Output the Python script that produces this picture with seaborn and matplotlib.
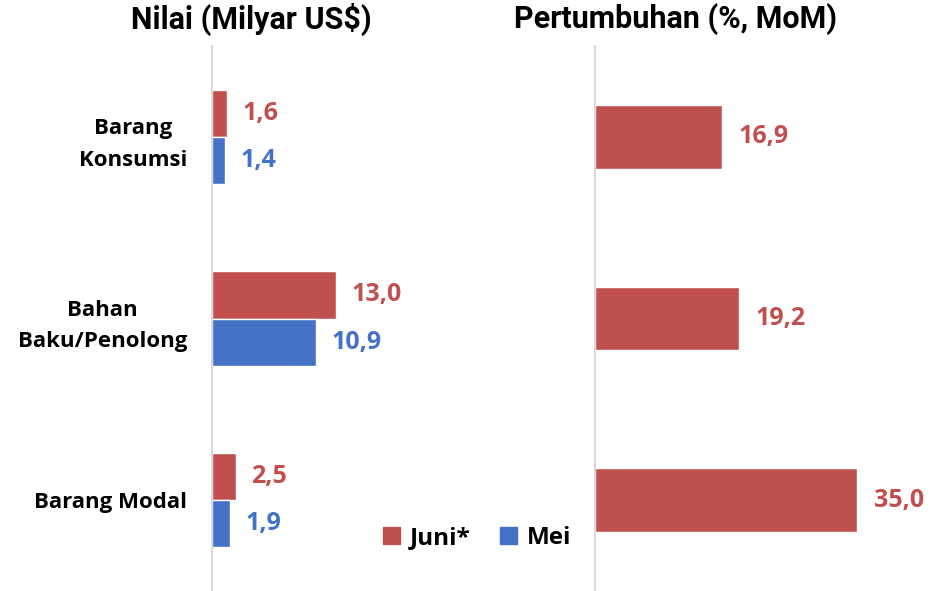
#!/usr/bin/env python3
# plot: nilai dan pertumbuhan impor menurut golongan barang

import pandas as pd
import seaborn as sns
import matplotlib.pyplot as plt
from matplotlib.patches import Patch

# Data =========================================================================

categories = ['Barang\nKonsumsi', 'Bahan\nBaku/Penolong', 'Barang Modal']
series = ['Juni*', 'Mei']
nilai_juni = [1.6, 13.0, 2.5]
nilai_mei = [1.4, 10.9, 1.9]
pertumbuhan = [16.9, 19.2, 35.0]

RED = '#C0504D'
BLUE = '#4472C4'
GRID = '#D9D9D9'


def fmt(v):
    return f'{v:.1f}'.replace('.', ',')


def main():
    sns.set_theme(style='white')
    plt.rcParams['font.family'] = ['Open Sans', 'DejaVu Sans']
    plt.rcParams['text.color'] = 'black'
    plt.rcParams['ytick.color'] = 'black'

    df = pd.DataFrame({
        'Kategori': categories * 2,
        'Periode': [series[0]] * 3 + [series[1]] * 3,
        'Nilai': nilai_juni + nilai_mei,
    })
    df2 = pd.DataFrame({'Kategori': categories, 'Pertumbuhan': pertumbuhan})

    fig = plt.figure(figsize=(9.38, 5.91), dpi=100)
    W, H = 938, 591
    ax1 = fig.add_axes([212 / W, 0, 250 / W, 545 / H])
    ax2 = fig.add_axes([595 / W, 0, 310 / W, 545 / H])

    sns.barplot(data=df, y='Kategori', x='Nilai', hue='Periode', order=categories,
                hue_order=series, palette=[RED, BLUE], width=0.52, gap=0,
                saturation=1, orient='h', legend=False, ax=ax1)
    sns.barplot(data=df2, y='Kategori', x='Pertumbuhan', order=categories,
                color=RED, width=0.35, saturation=1, orient='h', ax=ax2)

    for cont, col in zip(ax1.containers, [RED, BLUE]):
        ax1.bar_label(cont, labels=[fmt(b.get_width()) for b in cont],
                      padding=11, color=col, fontsize=18, fontweight='bold')
    ax2.bar_label(ax2.containers[0],
                  labels=[fmt(b.get_width()) for b in ax2.containers[0]],
                  padding=12, color=RED, fontsize=18, fontweight='bold')

    ax1.set_xlim(0, 250 / 9.54)
    ax2.set_xlim(0, 310 / 7.49)
    for ax in (ax1, ax2):
        ax.set_ylim(2.5, -0.5)
        ax.set_xlabel('')
        ax.set_ylabel('')
        ax.set_xticks([])
        for s in ('top', 'right', 'bottom'):
            ax.spines[s].set_visible(False)
        ax.spines['left'].set_color(GRID)
        ax.spines['left'].set_linewidth(1.5)
        ax.tick_params(axis='y', length=0)
    ax2.set_yticks([])

    ax1.set_yticks(range(len(categories)))
    ax1.set_yticklabels(categories, fontsize=16, fontweight='bold',
                        multialignment='center', linespacing=1.65)
    ax1.tick_params(axis='y', pad=18)

    fig.text(251 / W, 1 - 19 / H, 'Nilai (Milyar US$)', ha='center', va='center',
             fontsize=22, fontweight='bold', family=['Roboto'])
    fig.text(675 / W, 1 - 19 / H, 'Pertumbuhan (%, MoM)', ha='center', va='center',
             fontsize=22, fontweight='bold', family=['Roboto'])

    handles = [Patch(color=RED, label=series[0]), Patch(color=BLUE, label=series[1])]
    fig.legend(handles=handles, loc='center', bbox_to_anchor=(477 / W, 1 - 538 / H),
               ncol=2, frameon=False, handlelength=0.7, handleheight=0.7,
               handletextpad=0.4, columnspacing=1.2,
               prop={'size': 17.5, 'weight': 'bold'})

    fig.savefig('out.png', dpi=100)


if __name__ == '__main__':
    main()
